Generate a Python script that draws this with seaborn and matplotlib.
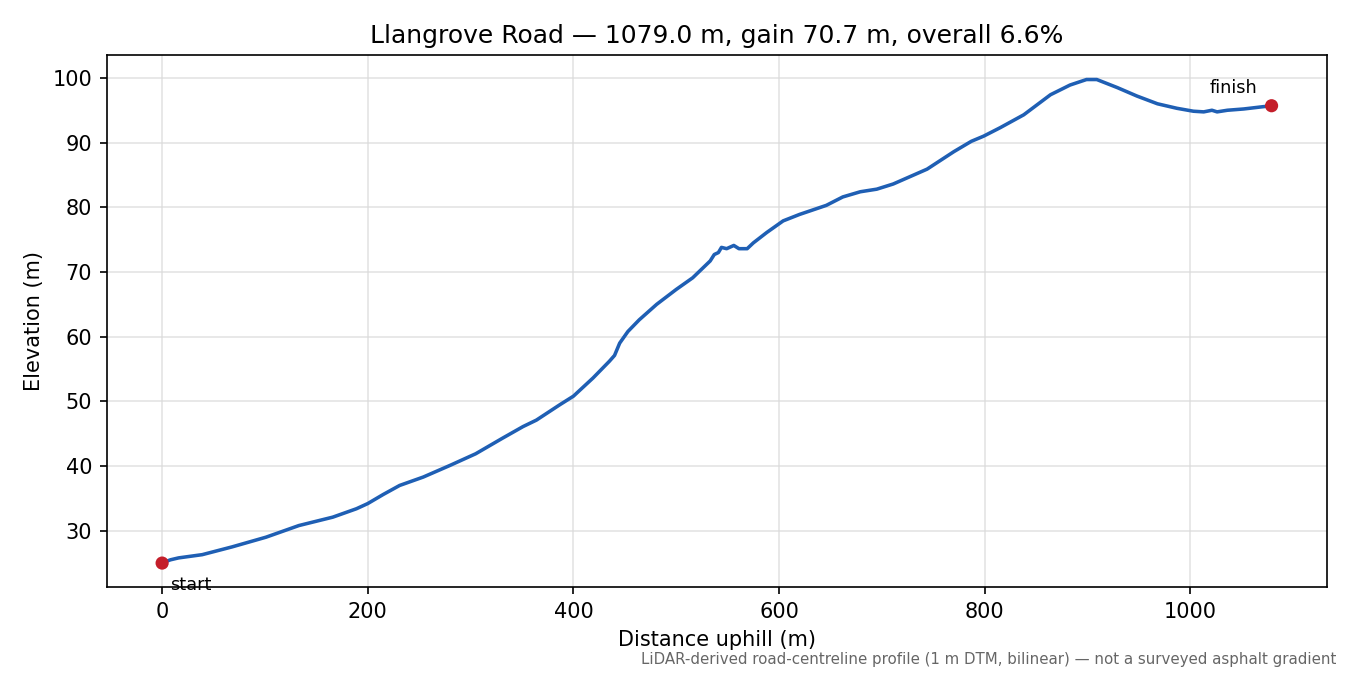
import pandas as pd
import matplotlib
matplotlib.use("Agg")
import matplotlib.pyplot as plt
import seaborn as sns

# profile
distance = [0, 8, 16, 39, 68, 101, 133, 166, 189, 200, 215, 231, 254, 280, 305,
            331, 351, 364, 387, 400, 419, 435, 440, 445, 453, 464, 481, 500, 516, 533,
            537, 541, 544, 549, 556, 561, 569, 575, 588, 604, 620, 646, 662, 679, 695,
            711, 744, 770, 787, 799, 815, 838, 864, 883, 899, 909, 929, 948, 968, 987,
            1003, 1013, 1021, 1026, 1036, 1052, 1068, 1079]
elevation = [25.0, 25.5, 25.8, 26.3, 27.5, 29.0, 30.8, 32.1, 33.4, 34.2, 35.6, 37.0, 38.3, 40.1, 41.9,
             44.3, 46.1, 47.1, 49.5, 50.8, 53.6, 56.2, 57.1, 59.0, 60.8, 62.6, 65.0, 67.3, 69.1, 71.7,
             72.7, 73.0, 73.8, 73.6, 74.1, 73.6, 73.6, 74.5, 76.1, 77.9, 78.9, 80.3, 81.6, 82.4, 82.8,
             83.6, 85.9, 88.6, 90.2, 91.0, 92.3, 94.3, 97.4, 98.9, 99.75, 99.75, 98.5, 97.2, 96.0, 95.3,
             94.85, 94.75, 95.0, 94.75, 95.0, 95.2, 95.5, 95.7]
end_labels = ["start", "finish"]

title = "Llangrove Road \u2014 1079.0 m, gain 70.7 m, overall 6.6%"
note = "LiDAR-derived road-centreline profile (1 m DTM, bilinear) \u2014 not a surveyed asphalt gradient"

df = pd.DataFrame({"distance": distance, "elevation": elevation})
ends = df.iloc[[0, -1]].copy()
ends["label"] = end_labels

fig, ax = plt.subplots(figsize=(9, 4.5), dpi=150)
fig.subplots_adjust(left=0.079, right=0.983, top=0.918, bottom=0.13)

sns.lineplot(data=df, x="distance", y="elevation", ax=ax, color="#1f5fb4", linewidth=1.7)
sns.scatterplot(data=ends, x="distance", y="elevation", ax=ax, color="#c41e2a",
                s=40, edgecolor="none", zorder=3)

ax.annotate(ends["label"].iloc[0], (ends["distance"].iloc[0], ends["elevation"].iloc[0]),
            xytext=(4, -6), textcoords="offset points", ha="left", va="top", fontsize=8.5)
ax.annotate(ends["label"].iloc[1], (ends["distance"].iloc[1], ends["elevation"].iloc[1]),
            xytext=(-7, 4), textcoords="offset points", ha="right", va="bottom", fontsize=8.5)

ax.grid(True, color="#d9d9d9", linewidth=0.8, alpha=0.7)
ax.set_axisbelow(True)
ax.set_xlabel("Distance uphill (m)")
ax.set_ylabel("Elevation (m)")
ax.set_title(title)
fig.text(0.99, 0.012, note, ha="right", va="bottom", fontsize=7.2, color="#666666")

fig.savefig("out.png", dpi=150)
